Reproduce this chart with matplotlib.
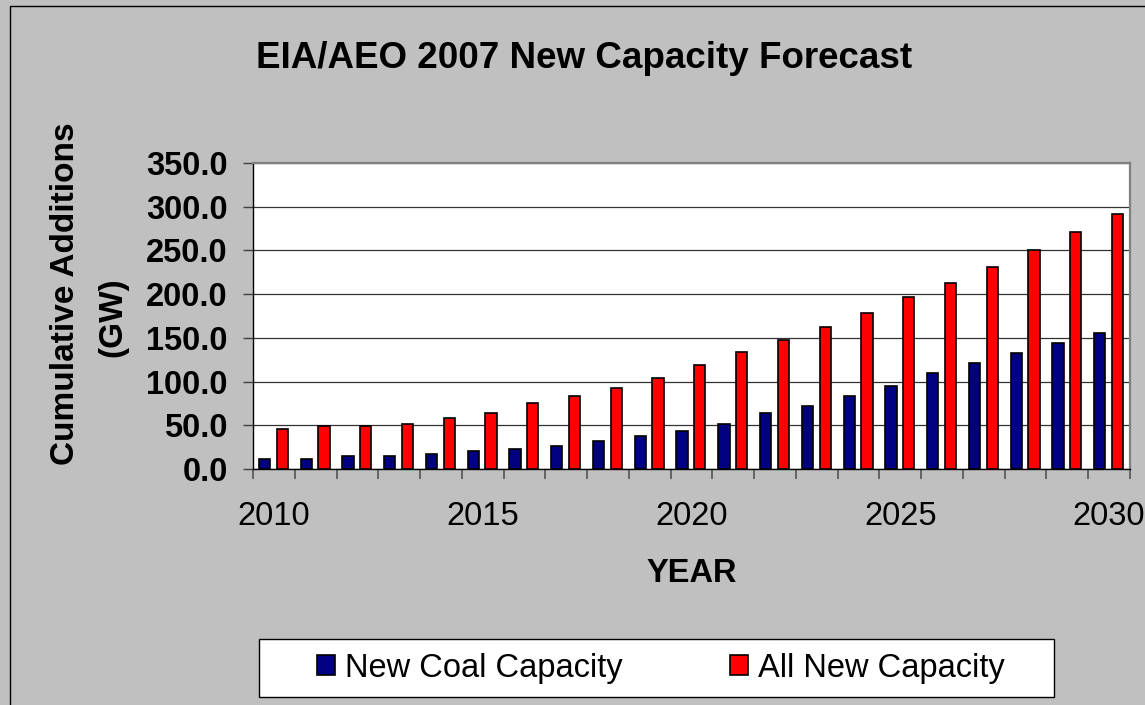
import matplotlib.pyplot as plt
import numpy as np
from matplotlib.patches import Rectangle

# EIA Annual Energy Outlook 2007: cumulative capacity additions (GW)
years = list(range(2010, 2031))
new_coal = [11.7, 11.7, 14.5, 14.5, 17.0, 20.5, 23.0, 26.7, 32.4, 38.0, 44.0,
            52.0, 64.0, 72.4, 83.6, 95.4, 110.0, 121.3, 133.0, 144.5, 156.0]
all_new = [46.0, 49.0, 49.0, 52.0, 58.0, 63.5, 75.0, 84.0, 93.0, 104.5, 118.6,
           134.0, 147.6, 162.0, 178.7, 196.5, 213.3, 231.2, 251.0, 271.5, 291.6]
y_ticks = [0, 50, 100, 150, 200, 250, 300, 350]

W, H = 1145, 705
plt.rcParams['font.family'] = ['Liberation Sans', 'DejaVu Sans']
FS = 23.5

fig = plt.figure(figsize=(W / 100, H / 100), dpi=100, facecolor='#C0C0C0')
ax = fig.add_axes([253 / W, 1 - 469 / H, (1130 - 253) / W, (469 - 163) / H])
ax.set_facecolor('white')

x = np.arange(len(years))
bw = 0.27
ax.bar(x - 0.225, new_coal, width=bw, color='#000080', edgecolor='black',
       linewidth=1.2, label='New Coal Capacity', zorder=3)
ax.bar(x + 0.2, all_new, width=bw, color='#FF0000', edgecolor='black',
       linewidth=1.2, label='All New Capacity', zorder=3)

ax.set_xlim(-0.5, len(years) - 0.5)
ax.set_ylim(0, 350)

# y axis
ax.set_yticks(y_ticks)
ax.set_yticklabels([f'{v:.1f}' for v in y_ticks], fontsize=FS, fontweight='bold')
ax.tick_params(axis='y', direction='out', length=7.2, width=1, color='#404040', pad=11)
ax.yaxis.grid(True, color='#333333', linewidth=0.9, zorder=1)

# x axis: ticks between categories, labels every 5 years
ax.set_xticks(np.arange(-0.5, len(years), 1.0), minor=True)
ax.set_xticks(x[::5])
ax.set_xticklabels([str(y) for y in years[::5]], fontsize=FS)
ax.tick_params(axis='x', which='major', length=0, pad=23)
ax.tick_params(axis='x', which='minor', direction='out', length=7.2, width=1.2, color='#555555')

for side in ['left', 'bottom']:
    ax.spines[side].set_color('black')
    ax.spines[side].set_linewidth(1)
for side in ['top', 'right']:
    ax.spines[side].set_color('#808080')
    ax.spines[side].set_linewidth(1.6)

# titles
fig.text(584.5 / W, 1 - 68 / H, 'EIA/AEO 2007 New Capacity Forecast',
         fontsize=26.5, fontweight='bold', ha='center', va='baseline')
fig.text(66 / W, 1 - 294 / H, 'Cumulative Additions', rotation=90,
         fontsize=24, fontweight='bold', ha='center', va='center')
fig.text(113 / W, 1 - 317 / H, '(GW)', rotation=90,
         fontsize=24, fontweight='bold', ha='center', va='center')
fig.text(692 / W, 1 - 574 / H, 'YEAR', fontsize=FS, fontweight='bold',
         ha='center', va='center')

# legend box and entries
fig.patches.append(Rectangle((259 / W, 1 - 697 / H), (1054 - 259) / W, 58 / H,
                             transform=fig.transFigure, facecolor='white',
                             edgecolor='black', linewidth=1, zorder=1))
leg = fig.legend(loc='center left', bbox_to_anchor=(301 / W, 1 - 668 / H),
                 ncol=2, frameon=False, fontsize=FS, borderpad=0,
                 handlelength=0.55, handleheight=0.55, handletextpad=0.3,
                 columnspacing=3.3)
leg.set_zorder(5)

# outer chart border
fig.patches.append(Rectangle((10 / W, -0.1), 1.2, (H - 6) / H + 0.1,
                             transform=fig.transFigure, fill=False,
                             edgecolor='black', linewidth=1))

fig.savefig('out.png', dpi=100, facecolor=fig.get_facecolor())
